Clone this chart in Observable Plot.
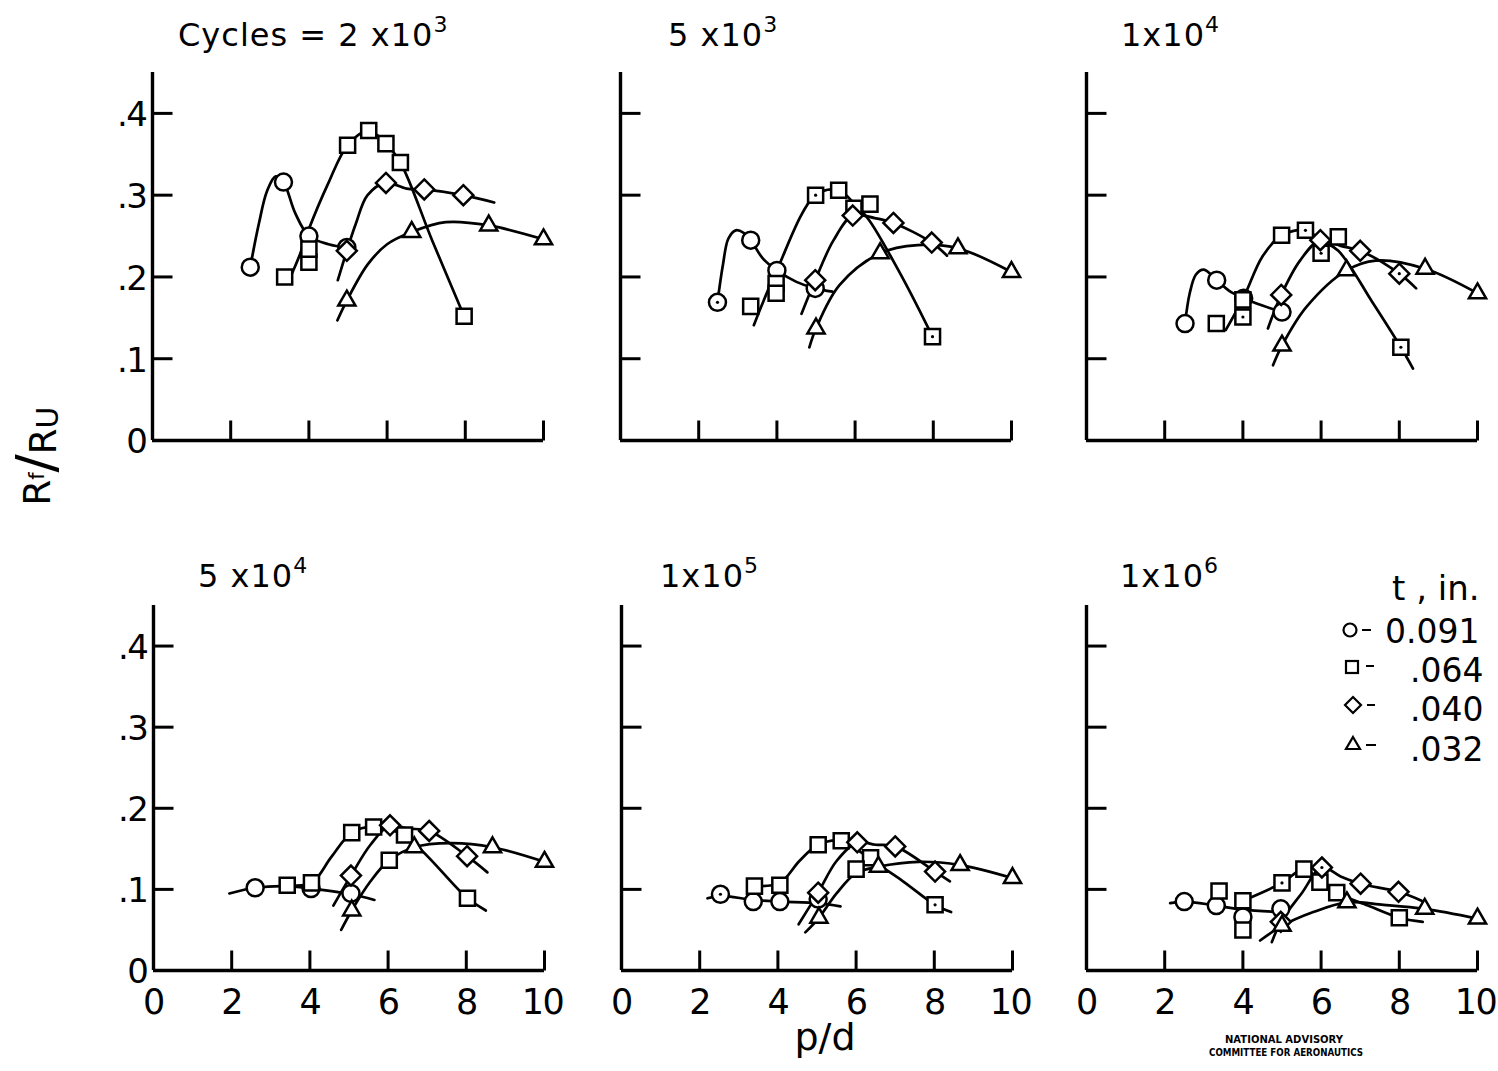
<!DOCTYPE html>
<html>
<head>
<meta charset="utf-8">
<script src="https://cdn.jsdelivr.net/npm/d3@7"></script>
<script src="https://cdn.jsdelivr.net/npm/@observablehq/plot@0.6"></script>
<style>
html, body { margin: 0; padding: 0; background: #fff; }
#page { position: relative; width: 1498px; height: 1071px; overflow: hidden; font-family: "DejaVu Sans", sans-serif; color: #000; background: #fff; }
.panel { position: absolute; }
#overlay { position: absolute; left: 0; top: 0; pointer-events: none; }
</style>
</head>
<body>
<div id="page"></div>
<script>
// ---------------- data ----------------
const seriesT = ["0.091", ".064", ".040", ".032"];
const seriesSymbol = ["circle", "square2", "diamond2", "triangle2"];
const seriesR = [8.5, 9.6, 9, 8.2];

const panelTitles = [["Cycles = 2 x10", "3"], ["5 x10", "3"], ["1x10", "4"], ["5 x10", "4"], ["1x10", "5"], ["1x10", "6"]];
const xTicks = [2, 4, 6, 8, 10];
const xTickLabels = [0, 2, 4, 6, 8];
const xTickLabelLast = [10];
const yTicks = [0.1, 0.2, 0.3, 0.4];
const yTickValues = [0, 0.1, 0.2, 0.3, 0.4];
const yTickLabels = ["0", ".1", ".2", ".3", ".4"];
const xDomain = [0, 10];
const yDomain = [0, 0.45];

// plotted points: [t, p/d, Rf/Ru, centre-dot flag]
const pts2e3 = [
  ["0.091", 2.5, 0.212], ["0.091", 3.35, 0.316], ["0.091", 4.0, 0.25], ["0.091", 4.97, 0.236],
  [".064", 3.38, 0.20], [".064", 4.0, 0.218], [".064", 4.0, 0.234], [".064", 4.99, 0.361], [".064", 5.53, 0.379],
  [".064", 5.97, 0.363], [".064", 6.34, 0.34], [".064", 7.97, 0.152],
  [".040", 4.97, 0.232], [".040", 5.97, 0.315], [".040", 6.95, 0.307], [".040", 7.95, 0.300],
  [".032", 4.97, 0.171], [".032", 6.63, 0.255], [".032", 8.6, 0.263], [".032", 10, 0.246]
];
const pts5e3 = [
  ["0.091", 2.48, 0.169, 1], ["0.091", 3.33, 0.245], ["0.091", 4.0, 0.208], ["0.091", 4.98, 0.186],
  [".064", 3.33, 0.164], [".064", 3.98, 0.192], [".064", 3.98, 0.180], [".064", 4.99, 0.300, 1], [".064", 5.58, 0.306],
  [".064", 5.97, 0.284], [".064", 6.38, 0.289], [".064", 7.98, 0.127, 1],
  [".040", 4.98, 0.196], [".040", 5.94, 0.275], [".040", 6.98, 0.266], [".040", 7.96, 0.242],
  [".032", 5.0, 0.137], [".032", 6.64, 0.229], [".032", 8.63, 0.235], [".032", 10, 0.206]
];
const pts1e4 = [
  ["0.091", 2.52, 0.143], ["0.091", 3.33, 0.196], ["0.091", 4.02, 0.174], ["0.091", 5.0, 0.157],
  [".064", 3.32, 0.143], [".064", 4.0, 0.151, 1], [".064", 4.0, 0.172], [".064", 4.99, 0.251], [".064", 5.6, 0.257, 1],
  [".064", 6.0, 0.229, 1], [".064", 6.44, 0.249], [".064", 8.04, 0.114, 1],
  [".040", 4.98, 0.178], [".040", 5.98, 0.245], [".040", 7.0, 0.232], [".040", 8.0, 0.204, 1],
  [".032", 5.0, 0.116], [".032", 6.65, 0.208], [".032", 8.66, 0.21], [".032", 10, 0.18]
];
const pts5e4 = [
  ["0.091", 2.6, 0.102], ["0.091", 4.03, 0.101], ["0.091", 5.05, 0.095],
  [".064", 3.42, 0.105], [".064", 4.04, 0.108], [".064", 5.07, 0.17], [".064", 5.63, 0.177], [".064", 6.42, 0.167],
  [".064", 6.03, 0.136], [".064", 8.03, 0.089],
  [".040", 5.05, 0.117], [".040", 6.05, 0.179], [".040", 7.05, 0.172], [".040", 8.02, 0.141],
  [".032", 5.07, 0.074], [".032", 6.67, 0.152], [".032", 8.67, 0.152], [".032", 10, 0.134]
];
const pts1e5 = [
  ["0.091", 2.53, 0.094, 1], ["0.091", 3.37, 0.085], ["0.091", 4.05, 0.085], ["0.091", 5.03, 0.088],
  [".064", 3.4, 0.104], [".064", 4.05, 0.105], [".064", 5.03, 0.155], [".064", 5.62, 0.16], [".064", 6.37, 0.139],
  [".064", 6.0, 0.125], [".064", 8.02, 0.081, 1],
  [".040", 5.03, 0.096], [".040", 6.03, 0.158], [".040", 7.0, 0.153], [".040", 8.02, 0.122],
  [".032", 5.05, 0.065], [".032", 6.57, 0.128], [".032", 8.66, 0.13], [".032", 10, 0.114]
];
const pts1e6 = [
  ["0.091", 2.5, 0.085], ["0.091", 3.32, 0.080], ["0.091", 4.0, 0.066], ["0.091", 4.97, 0.076],
  [".064", 3.39, 0.098], [".064", 4.0, 0.086], [".064", 4.0, 0.05], [".064", 5.0, 0.108, 1], [".064", 5.56, 0.125],
  [".064", 5.97, 0.109], [".064", 6.4, 0.096], [".064", 8.0, 0.065],
  [".040", 4.97, 0.06], [".040", 6.02, 0.127, 1], [".040", 7.01, 0.107], [".040", 7.98, 0.097],
  [".032", 5.0, 0.055], [".032", 6.66, 0.084], [".032", 8.65, 0.076], [".032", 10, 0.064]
];

// faired curves: [t, p/d, Rf/Ru]
const crv2e3 = [
  ...[[2.5, 0.212], [2.72, 0.265], [2.93, 0.305], [3.15, 0.323], [3.35, 0.316], [3.65, 0.278], [4.0, 0.25], [4.5, 0.24], [4.97, 0.236]].map(d => ["0.091", ...d]),
  ...[[3.49, 0.196], [3.75, 0.225], [3.97, 0.255], [4.5, 0.315], [4.99, 0.361], [5.53, 0.379], [5.97, 0.363], [6.34, 0.34], [7.15, 0.245], [7.97, 0.152]].map(d => [".064", ...d]),
  ...[[4.74, 0.196], [4.97, 0.232], [5.2, 0.265], [5.5, 0.3], [5.97, 0.315], [6.5, 0.308], [6.95, 0.307], [7.95, 0.300], [8.74, 0.291]].map(d => [".040", ...d]),
  ...[[4.73, 0.147], [4.97, 0.171], [5.5, 0.215], [6.0, 0.24], [6.63, 0.255], [7.5, 0.267], [8.6, 0.263], [10, 0.246]].map(d => [".032", ...d])
];
const crv5e3 = [
  ...[[2.48, 0.169], [2.62, 0.215], [2.76, 0.247], [2.95, 0.257], [3.15, 0.254], [3.33, 0.245], [3.65, 0.222], [4.0, 0.208], [4.5, 0.194], [4.98, 0.186], [5.42, 0.182]].map(d => ["0.091", ...d]),
  ...[[3.41, 0.141], [3.96, 0.204], [4.99, 0.300], [5.58, 0.306], [5.97, 0.29], [6.35, 0.27], [7.2, 0.2], [7.98, 0.127]].map(d => [".064", ...d]),
  ...[[4.63, 0.155], [4.98, 0.196], [5.45, 0.245], [5.94, 0.275], [6.5, 0.272], [6.98, 0.266], [7.96, 0.242], [8.35, 0.226]].map(d => [".040", ...d]),
  ...[[4.83, 0.114], [5.0, 0.137], [5.6, 0.19], [6.64, 0.229], [7.6, 0.239], [8.63, 0.235], [10, 0.206]].map(d => [".032", ...d])
];
const crv1e4 = [
  ...[[2.52, 0.143], [2.64, 0.18], [2.8, 0.203], [3.0, 0.209], [3.33, 0.196], [3.65, 0.183], [4.02, 0.174], [4.5, 0.165], [5.0, 0.157]].map(d => ["0.091", ...d]),
  ...[[3.56, 0.135], [4.02, 0.175], [4.5, 0.225], [4.99, 0.251], [5.6, 0.257], [6.0, 0.245], [6.44, 0.232], [7.3, 0.17], [8.04, 0.114], [8.35, 0.088]].map(d => [".064", ...d]),
  ...[[4.64, 0.137], [4.98, 0.178], [5.46, 0.22], [5.98, 0.245], [6.5, 0.238], [7.0, 0.232], [8.0, 0.204], [8.43, 0.186]].map(d => [".040", ...d]),
  ...[[4.77, 0.092], [5.0, 0.116], [5.62, 0.163], [6.65, 0.208], [7.4, 0.22], [8.66, 0.21], [10, 0.18]].map(d => [".032", ...d])
];
const crv5e4 = [
  ...[[1.94, 0.095], [2.6, 0.102], [3.4, 0.104], [4.03, 0.101], [5.05, 0.094], [5.65, 0.087]].map(d => ["0.091", ...d]),
  ...[[3.42, 0.105], [4.04, 0.108], [4.55, 0.14], [5.07, 0.17], [5.63, 0.177], [6.42, 0.166], [8.03, 0.089], [8.5, 0.074]].map(d => [".064", ...d]),
  ...[[4.6, 0.08], [5.05, 0.117], [5.55, 0.155], [6.05, 0.179], [6.5, 0.175], [7.05, 0.172], [8.02, 0.141], [8.54, 0.121]].map(d => [".040", ...d]),
  ...[[4.8, 0.05], [5.07, 0.074], [5.55, 0.11], [6.03, 0.136], [6.67, 0.152], [7.6, 0.157], [8.67, 0.152], [10, 0.134]].map(d => [".032", ...d])
];
const crv1e5 = [
  ...[[2.2, 0.089], [2.53, 0.092], [3.37, 0.087], [4.05, 0.085], [5.03, 0.083], [5.6, 0.079]].map(d => ["0.091", ...d]),
  ...[[3.4, 0.104], [4.05, 0.108], [4.55, 0.135], [5.03, 0.155], [5.62, 0.16], [6.0, 0.15], [6.37, 0.137], [7.2, 0.11], [8.02, 0.081], [8.43, 0.072]].map(d => [".064", ...d]),
  ...[[4.53, 0.057], [5.03, 0.096], [5.5, 0.135], [6.03, 0.158], [6.5, 0.155], [7.0, 0.153], [8.02, 0.122], [8.4, 0.11]].map(d => [".040", ...d]),
  ...[[4.7, 0.047], [5.05, 0.065], [5.5, 0.095], [6.0, 0.12], [6.57, 0.128], [7.6, 0.134], [8.66, 0.13], [10, 0.114]].map(d => [".032", ...d])
];
const crv1e6 = [
  ...[[2.14, 0.083], [2.5, 0.085], [3.32, 0.08], [4.0, 0.075], [4.97, 0.072]].map(d => ["0.091", ...d]),
  ...[[4.0, 0.086], [5.0, 0.108], [5.56, 0.125], [5.97, 0.111], [6.4, 0.096], [7.2, 0.08], [8.0, 0.065], [8.6, 0.06]].map(d => [".064", ...d]),
  ...[[4.74, 0.035], [4.97, 0.06], [5.5, 0.095], [6.02, 0.127], [6.5, 0.116], [7.01, 0.107], [7.98, 0.097], [8.57, 0.086]].map(d => [".040", ...d]),
  ...[[4.44, 0.037], [5.0, 0.055], [5.8, 0.072], [6.66, 0.084], [7.6, 0.081], [8.65, 0.076], [10, 0.064]].map(d => [".032", ...d])
];

// ---------------- layout ----------------
const ML = 60, MR = 20, MT = 10, MB = 50, PW = 391;
const layout = [
  { pts: pts2e3, crv: crv2e3, axisX: 152, y0: 440, h: 368, row: 0, col: 0, tx: 178, tb: 46 },
  { pts: pts5e3, crv: crv5e3, axisX: 620, y0: 440, h: 368, row: 0, col: 1, tx: 668, tb: 46 },
  { pts: pts1e4, crv: crv1e4, axisX: 1086, y0: 440, h: 368, row: 0, col: 2, tx: 1121, tb: 46 },
  { pts: pts5e4, crv: crv5e4, axisX: 153, y0: 970, h: 365, row: 1, col: 0, tx: 198, tb: 587 },
  { pts: pts1e5, crv: crv1e5, axisX: 621, y0: 970, h: 365, row: 1, col: 1, tx: 660, tb: 587 },
  { pts: pts1e6, crv: crv1e6, axisX: 1086, y0: 970, h: 365, row: 1, col: 2, tx: 1120, tb: 587 }
];

const tickRight = { draw(ctx) { ctx.moveTo(0, 0); ctx.lineTo(20, 0); } };
const tickUp = { draw(ctx) { ctx.moveTo(0, 0); ctx.lineTo(0, -20); } };
const centreDot = { draw(ctx) { ctx.moveTo(1.6, 0); ctx.arc(0, 0, 1.6, 0, 2 * Math.PI); } };

const page = document.getElementById("page");

layout.forEach((p) => {
  const ptRows = p.pts.map(d => ({ t: d[0], x: d[1], y: d[2], flag: d[3] || 0 }));
  const crvRows = p.crv.map(d => ({ t: d[0], x: d[1], y: d[2] }));
  const marks = [
    Plot.ruleX([0], { y1: yDomain[0], y2: yDomain[1], stroke: "black", strokeWidth: 3.4 }),
    Plot.ruleY([0], { x1: xDomain[0], x2: xDomain[1], stroke: "black", strokeWidth: 3.4 }),
    Plot.dot(yTicks, { x: 0, y: d => d, symbol: tickRight, fill: "none", stroke: "black", strokeWidth: 3 }),
    Plot.dot(xTicks, { x: d => d, y: 0, symbol: tickUp, fill: "none", stroke: "black", strokeWidth: 3 }),
    Plot.line(crvRows, { x: "x", y: "y", z: "t", curve: "catmull-rom", stroke: "black", strokeWidth: 2.7, strokeLinecap: "round" })
  ];
  if (p.col === 0) {
    marks.push(Plot.text(yTickValues, { x: 0, y: d => d, text: (d, i) => yTickLabels[i], textAnchor: "end", dx: -6, dy: 2, fontSize: 34, fill: "black" }));
  }
  if (p.row === 1) {
    marks.push(Plot.text(xTickLabels, { x: d => d, y: 0, text: d => String(d), lineAnchor: "bottom", dy: 43, fontSize: 35, fill: "black" }));
    marks.push(Plot.text(xTickLabelLast, { x: d => d, y: 0, text: d => String(d), lineAnchor: "bottom", dy: 43, dx: -2, fontSize: 35, fill: "black" }));
  }
  seriesT.forEach((t, i) => {
    marks.push(Plot.dot(ptRows.filter(d => d.t === t), { x: "x", y: "y", symbol: seriesSymbol[i], r: seriesR[i], fill: "white", stroke: "black", strokeWidth: 2.5 }));
  });
  marks.push(Plot.dot(ptRows.filter(d => d.flag), { x: "x", y: "y", symbol: centreDot, fill: "black", stroke: "none" }));

  const chart = Plot.plot({
    width: ML + PW + MR,
    height: MT + p.h + MB,
    marginLeft: ML, marginRight: MR, marginTop: MT, marginBottom: MB,
    x: { domain: xDomain, axis: null },
    y: { domain: yDomain, axis: null },
    style: { background: "transparent", overflow: "visible", fontFamily: "DejaVu Sans, sans-serif", color: "black", letterSpacing: "-1.5px" },
    marks
  });
  const wrap = document.createElement("div");
  wrap.className = "panel";
  wrap.style.left = (p.axisX - ML) + "px";
  wrap.style.top = (p.y0 - p.h - MT) + "px";
  wrap.appendChild(chart);
  page.appendChild(wrap);
});

// ---------------- overlay texts ----------------
const NS = "http://www.w3.org/2000/svg";
const ov = document.createElementNS(NS, "svg");
ov.setAttribute("id", "overlay");
ov.setAttribute("width", 1498);
ov.setAttribute("height", 1071);
ov.setAttribute("font-family", "DejaVu Sans, sans-serif");
let html = "";
layout.forEach((p, i) => {
  const [base, exp] = panelTitles[i];
  html += `<text x="${p.tx}" y="${p.tb}" font-size="32" letter-spacing="1">${base}<tspan font-size="22" dy="-14">${exp}</tspan></text>`;
});
// y axis label
html += `<text transform="translate(50,456) rotate(-90)" text-anchor="middle" font-size="37">R<tspan font-size="21" dy="-6">f</tspan><tspan font-size="54" dy="10">/</tspan><tspan dy="2">R</tspan><tspan font-size="30" dy="2">U</tspan></text>`;
// x axis label
html += `<text x="825" y="1050" text-anchor="middle" font-size="38">p/d</text>`;
// legend
const legendLabels = ["0.091", ".064", ".040", ".032"];
const lgX = [1385, 1410, 1410, 1410];
const lgY = [643, 682, 721, 761];
const symY = [630, 667, 705, 743];
html += `<text x="1392" y="600" font-size="34">t , in.</text>`;
html += `<g fill="none" stroke="black" stroke-width="2.2">`;
html += `<circle cx="1350" cy="${symY[0]}" r="6.5"/>`;
html += `<rect x="1346" y="${symY[1] - 6}" width="12" height="12"/>`;
html += `<path d="M1353,${symY[2] - 8}L1361,${symY[2]}L1353,${symY[2] + 8}L1345,${symY[2]}Z"/>`;
html += `<path d="M1353,${symY[3] - 6}L1360,${symY[3] + 6}L1346,${symY[3] + 6}Z"/>`;
html += `<path d="M1362,630h9M1366,666h8M1367,705h8M1366,745h10"/>`;
html += `</g>`;
legendLabels.forEach((s, i) => {
  html += `<text x="${lgX[i]}" y="${lgY[i]}" font-size="33">${s}</text>`;
});
// NACA stamp
html += `<text x="1284" y="1043" text-anchor="middle" font-size="10" font-weight="900" textLength="118" lengthAdjust="spacingAndGlyphs">NATIONAL ADVISORY</text>`;
html += `<text x="1286" y="1056" text-anchor="middle" font-size="10" font-weight="900" textLength="154" lengthAdjust="spacingAndGlyphs">COMMITTEE FOR AERONAUTICS</text>`;
ov.innerHTML = html;
page.appendChild(ov);
</script>
</body>
</html>
